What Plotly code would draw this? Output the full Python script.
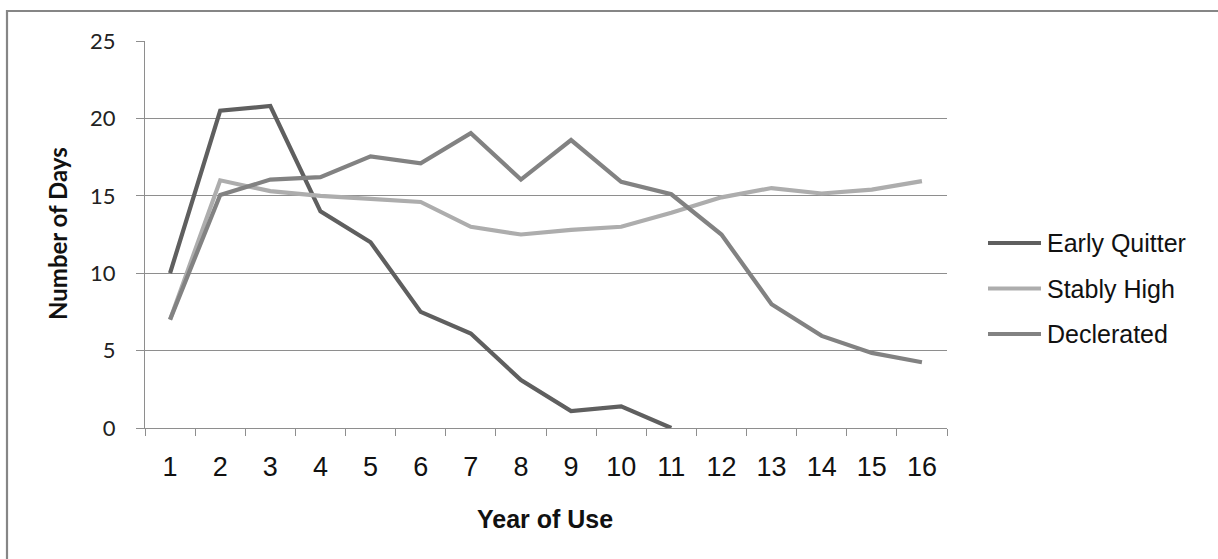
import plotly.graph_objects as go

# ---- data -------------------------------------------------------------
years = [str(i) for i in range(1, 17)]
early_quitter = [10, 20.5, 20.8, 14, 12, 7.5, 6.1, 3.1, 1.1, 1.4, 0]
stably_high = [7, 16, 15.3, 15, 14.8, 14.6, 13, 12.5, 12.8, 13, 13.9, 14.9, 15.5, 15.15, 15.4, 15.95]
declerated = [7, 15.05, 16.05, 16.2, 17.55, 17.1, 19.05, 16.05, 18.6, 15.9, 15.1, 12.5, 8, 5.95, 4.85, 4.25]
y_ticks = [0, 5, 10, 15, 20, 25]
series_names = ["Early Quitter", "Stably High", "Declerated"]
x_title = "Year of Use"
y_title = "Number of Days"

# ---- styling ----------------------------------------------------------
W, H = 1218, 559
ML, MR, MT, MB = 145, 271, 41, 131
PW, PH = W - ML - MR, H - MT - MB
series_colors = ["#5f5f5f", "#adadad", "#828282"]
grid_col = "#8e8e8e"
LINE_W = 4.2


def px_x(px):
    return (px - ML) / PW


def px_y(py):
    return (H - MB - py) / PH


fig = go.Figure()
for name, vals, col in zip(series_names, [early_quitter, stably_high, declerated], series_colors):
    fig.add_trace(go.Scatter(
        x=years[:len(vals)], y=vals, name=name, mode="lines",
        line=dict(color=col, width=LINE_W), showlegend=False,
    ))

shapes = [
    # outer chart frame (runs off the right and bottom edges)
    dict(type="rect", xref="paper", yref="paper",
         x0=px_x(7), x1=px_x(W + 10), y0=px_y(H + 10), y1=px_y(11),
         line=dict(color="#868686", width=2.2), fillcolor="rgba(0,0,0,0)", layer="below"),
]
annotations = []

# legend drawn to the right of the plot
leg_y = [243, 288.5, 334]
for name, col, cy in zip(series_names, series_colors, leg_y):
    shapes.append(dict(type="line", xref="paper", yref="paper",
                       x0=px_x(988), x1=px_x(1041), y0=px_y(cy), y1=px_y(cy),
                       line=dict(color=col, width=LINE_W)))
    annotations.append(dict(text=name, xref="paper", yref="paper",
                            x=px_x(1045), y=px_y(cy), xanchor="left", yanchor="middle",
                            showarrow=False,
                            font=dict(family="Liberation Sans, Arial", size=25, color="#111111")))

annotations.append(dict(text="<b>" + x_title + "</b>", xref="paper", yref="paper",
                        x=px_x(545), y=px_y(519), xanchor="center", yanchor="middle",
                        showarrow=False,
                        font=dict(family="Liberation Sans, Arial", size=25, color="#111111")))
annotations.append(dict(text="<b>" + y_title + "</b>", xref="paper", yref="paper",
                        x=px_x(58), y=px_y(234), xanchor="center", yanchor="middle",
                        textangle=-90, showarrow=False,
                        font=dict(family="Lato, Open Sans", size=24, color="#111111")))

fig.update_layout(
    width=W, height=H,
    margin=dict(l=ML, r=MR, t=MT, b=MB, pad=0),
    paper_bgcolor="white", plot_bgcolor="white",
    shapes=shapes, annotations=annotations,
    xaxis=dict(
        type="category", categoryorder="array", categoryarray=years,
        range=[-0.5, 15.5], tickson="boundaries", ticks="outside", ticklen=7,
        tickcolor=grid_col, tickwidth=1, showline=True, linecolor=grid_col, linewidth=1,
        showgrid=False, ticklabelstandoff=15,
        tickfont=dict(family="Liberation Sans Narrow, Liberation Sans, Arial", size=27, color="#111111"),
    ),
    yaxis=dict(
        range=[0, 25], tickvals=y_ticks, ticks="outside", ticklen=8,
        tickcolor=grid_col, tickwidth=1, showline=True, linecolor=grid_col, linewidth=1,
        showgrid=True, gridcolor=grid_col, gridwidth=1, zeroline=False,
        ticklabelstandoff=16,
        tickfont=dict(family="Lato, Open Sans", size=22, color="#222222"),
    ),
)

fig.write_html("out.html")
